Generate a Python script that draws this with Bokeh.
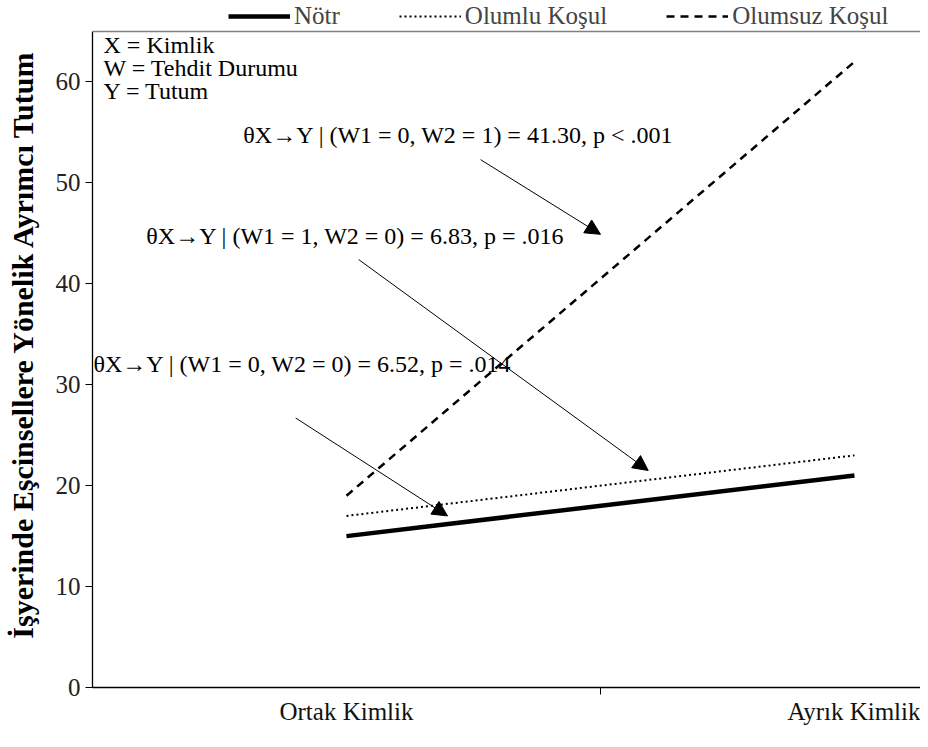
from bokeh.plotting import figure
from bokeh.models import (FixedTicker, Legend, LegendItem, Label, Arrow,
                          NormalHead, Span, Range1d, ColumnDataSource)
from bokeh.embed import file_html
from bokeh.resources import INLINE

# ---- data ----
categories = ["Ortak Kimlik", "Ayrık Kimlik"]
notr = [15, 21]
olumlu = [17, 23]
olumsuz = [19, 62]
y_ticks = [0, 10, 20, 30, 40, 50, 60]
series_names = ["Nötr", "Olumlu Koşul", "Olumsuz Koşul"]
y_title = "İşyerinde Eşcinsellere Yönelik Ayrımcı Tutum"
key_lines = ["X = Kimlik", "W = Tehdit Durumu", "Y = Tutum"]
effect_texts = [
    "θX→Y | (W1 = 0, W2 = 1) = 41.30, p < .001",
    "θX→Y | (W1 = 1, W2 = 0) = 6.83, p = .016",
    "θX→Y | (W1 = 0, W2 = 0) = 6.52, p = .014",
]

xs = [i + 0.5 for i in range(len(categories))]
src = ColumnDataSource(dict(x=xs, notr=notr, olumlu=olumlu, olumsuz=olumsuz))

SERIF = "Liberation Serif"
W, H = 920, 731
TOP, BOTTOM, LEFT = 0, 44, 92
Y_MAX = 65          # top of the value axis (grey border)
Y_VIEW = 68.07      # extra room above for the legend

p = figure(width=W, height=H, output_backend="svg", toolbar_location=None,
           x_range=Range1d(0, 1.63), y_range=Range1d(0, Y_VIEW),
           min_border_left=LEFT, min_border_right=0, min_border_bottom=BOTTOM,
           min_border_top=TOP, background_fill_color="white",
           border_fill_color="white")
p.outline_line_color = None
p.grid.visible = False

r1 = p.line("x", "notr", source=src, line_color="black", line_width=4.5)
r2 = p.line("x", "olumlu", source=src, line_color="black", line_width=2,
            line_dash="2 3")
r3 = p.line("x", "olumsuz", source=src, line_color="black", line_width=2.5,
            line_dash="8 6")

# axes
xa = p.xaxis[0]
xa.ticker = FixedTicker(ticks=xs, minor_ticks=[1])
xa.major_label_overrides = {x: c for x, c in zip(xs, categories)}
xa.major_tick_out = 0
xa.major_tick_in = 0
xa.minor_tick_out = 7
xa.minor_tick_in = 0
xa.minor_tick_line_color = "black"
xa.major_label_standoff = 3
xa.major_label_text_font = SERIF
xa.major_label_text_font_size = "25px"
xa.major_label_text_color = "#111111"
xa.axis_line_color = "black"
xa.axis_line_width = 1.3

ya = p.yaxis[0]
ya.ticker = FixedTicker(ticks=y_ticks)
ya.bounds = (0, Y_MAX)
ya.minor_tick_line_color = None
ya.major_tick_out = 7
ya.major_tick_in = 0
ya.major_tick_line_color = "black"
ya.major_label_standoff = 5
ya.major_label_text_font = SERIF
ya.major_label_text_font_size = "25px"
ya.major_label_text_color = "#222222"
ya.axis_line_color = "black"
ya.axis_line_width = 1.3
ya.axis_label = y_title
ya.axis_label_text_font = SERIF
ya.axis_label_text_font_style = "bold"
ya.axis_label_text_font_size = "30px"
ya.axis_label_text_color = "black"
ya.axis_label_standoff = 14

# top border of the plot area
p.add_layout(Span(location=Y_MAX, dimension="width", line_color="#808080",
                  line_width=1.5))

# legend above the plot area (location = bottom-left corner, frame pixels)
frame_h = H - TOP - BOTTOM
legend = Legend(items=[LegendItem(label=series_names[0], renderers=[r1]),
                       LegendItem(label=series_names[1], renderers=[r2]),
                       LegendItem(label=series_names[2], renderers=[r3])],
                orientation="horizontal", location=(136, frame_h - 30),
                border_line_color=None, background_fill_alpha=0,
                margin=0, padding=0, spacing=59, glyph_width=62,
                glyph_height=22, label_height=22, label_standoff=4,
                label_text_font=SERIF, label_text_font_size="25px",
                label_text_baseline="middle")
p.add_layout(legend)

# key text (top-left)
for i, t in enumerate(key_lines):
    p.add_layout(Label(x=0.0217, y=63.7 - i * 2.28, text=t, text_font=SERIF,
                       text_font_size="24px", text_baseline="middle",
                       text_color="black"))

# effect annotations
text_pos = [(0.297, 54.7), (0.106, 44.7), (0.002, 32.1)]
for (tx, ty), t in zip(text_pos, effect_texts):
    p.add_layout(Label(x=tx, y=ty, text=t, text_font=SERIF,
                       text_font_size="24px", text_baseline="middle",
                       text_align="left", text_color="black"))

arrow_pos = [((0.764, 52.3), (1.0, 44.9)),
             ((0.524, 42.4), (1.094, 21.5)),
             ((0.400, 26.7), (0.699, 17.0))]
for (s, e) in arrow_pos:
    p.add_layout(Arrow(end=NormalHead(size=15, fill_color="black",
                                      line_color="black"),
                       x_start=s[0], y_start=s[1], x_end=e[0], y_end=e[1],
                       line_color="black", line_width=1))

open("out.html", "w").write(file_html(p, INLINE))
